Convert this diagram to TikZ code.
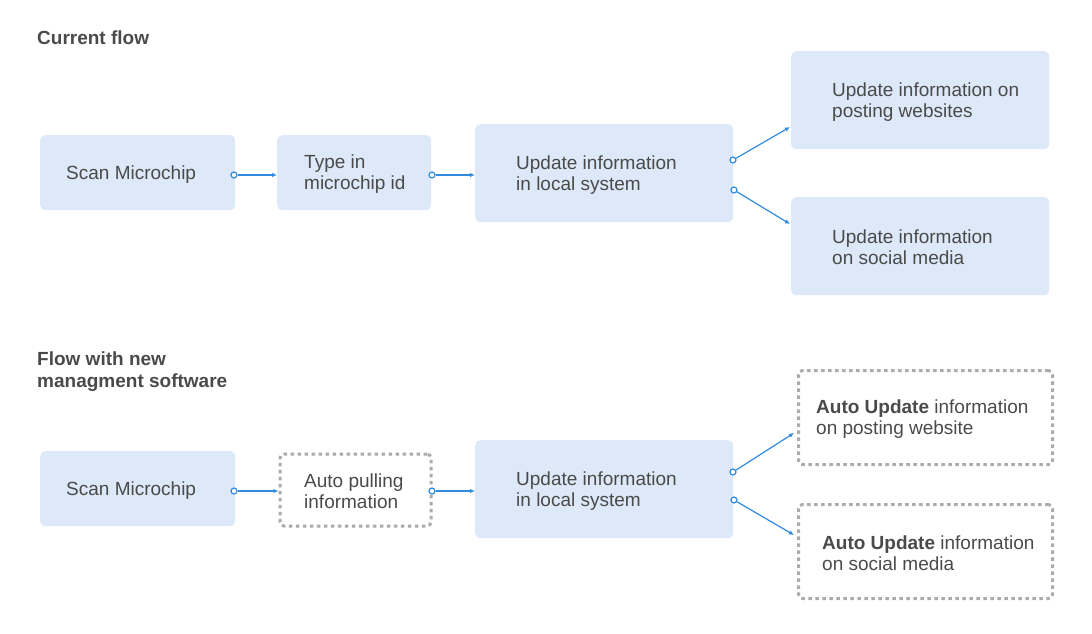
\documentclass[tikz,border=0pt]{standalone}
\usepackage{fontspec}
\setmainfont{Liberation Sans}
\usetikzlibrary{arrows.meta}
\definecolor{boxblue}{HTML}{DDE9F8}
\definecolor{txt}{HTML}{4A4A4A}
\definecolor{conn}{HTML}{2E8BE0}
\definecolor{dashgray}{HTML}{ABABAB}
\tikzset{
  box/.style={fill=boxblue, rounded corners=5pt, anchor=north west, inner sep=0pt},
  dbox/.style={draw=dashgray, line width=3pt, dash pattern=on 3.5pt off 3.5pt, rounded corners=4pt,
    anchor=north west, inner sep=0pt},
  lbl/.style={anchor=west, align=left, text=txt, font=\fontsize{19}{21}\selectfont, inner sep=0pt, yshift=-1.5pt},
  title/.style={anchor=north west, align=left, text=txt, font=\fontsize{19}{21.5}\selectfont\bfseries, inner sep=0pt},
  dot/.style={circle, draw=conn, fill=white, line width=1.2pt, inner sep=0pt, minimum size=6pt},
  link/.style={draw=conn, line width=1.2pt, -{Latex[length=5pt,width=4.5pt]}}
}
\begin{document}
\begin{tikzpicture}[x=1pt,y=-1pt]
\useasboundingbox (0,0) rectangle (1092,633);
% titles
\node[title] (t1) at (37,31) {Current flow};
\node[title] (t2) at (37,352) {Flow with new\\managment software};
% row 1
\node[box, minimum width=195, minimum height=75] (a1) at (40,135) {};
\node[lbl] (a1t) at ([xshift=26]a1.west) {Scan Microchip};
\node[box, minimum width=154, minimum height=75] (b1) at (277,135) {};
\node[lbl] (b1t) at ([xshift=27]b1.west) {Type in\\microchip id};
\node[box, minimum width=258, minimum height=98] (c1) at (475,124) {};
\node[lbl] (c1t) at ([xshift=41]c1.west) {Update information\\in local system};
\node[box, minimum width=258, minimum height=98] (d1) at (791,51) {};
\node[lbl] (d1t) at ([xshift=41]d1.west) {Update information on\\posting websites};
\node[box, minimum width=258, minimum height=98] (e1) at (791,197) {};
\node[lbl] (e1t) at ([xshift=41]e1.west) {Update information\\on social media};
% row 2
\node[box, minimum width=195, minimum height=75] (a2) at (40,451) {};
\node[lbl] (a2t) at ([xshift=26]a2.west) {Scan Microchip};
\node[dbox, minimum width=151, minimum height=72] (b2) at (278.5,452.5) {};
\node[lbl] (b2t) at ([xshift=25.5]b2.west) {Auto pulling\\information};
\node[box, minimum width=258, minimum height=98] (c2) at (475,440) {};
\node[lbl] (c2t) at ([xshift=41]c2.west) {Update information\\in local system};
\node[dbox, minimum width=254, minimum height=94] (d2) at (797,369) {};
\node[lbl] (d2t) at ([xshift=19]d2.west) {\textbf{Auto Update} information\\on posting website};
\node[dbox, minimum width=254, minimum height=94] (e2) at (797,503) {};
\node[lbl] (e2t) at ([xshift=25]e2.west) {\textbf{Auto Update} information\\on social media};
% connector points
\node[dot] (p1) at (234,175) {};
\node[dot] (p2) at (432,175) {};
\node[dot] (p3) at (733,160) {};
\node[dot] (p4) at (734,190) {};
\node[dot] (q1) at (234,491) {};
\node[dot] (q2) at (432,491) {};
\node[dot] (q3) at (733,472) {};
\node[dot] (q4) at (734,500) {};
\coordinate (d1in) at (790,127);
\coordinate (e1in) at (790,224);
\coordinate (d2in) at (794,433);
\coordinate (e2in) at (794,535);
% connectors row 1
\draw[link] (p1) -- (b1.west |- p1);
\draw[link] (p2) -- (c1.west |- p2);
\draw[link] (p3) -- (d1in);
\draw[link] (p4) -- (e1in);
% connectors row 2
\draw[link] (q1) -- (b2.west |- q1);
\draw[link] (q2) -- (c2.west |- q2);
\draw[link] (q3) -- (d2in);
\draw[link] (q4) -- (e2in);
\end{tikzpicture}
\end{document}
